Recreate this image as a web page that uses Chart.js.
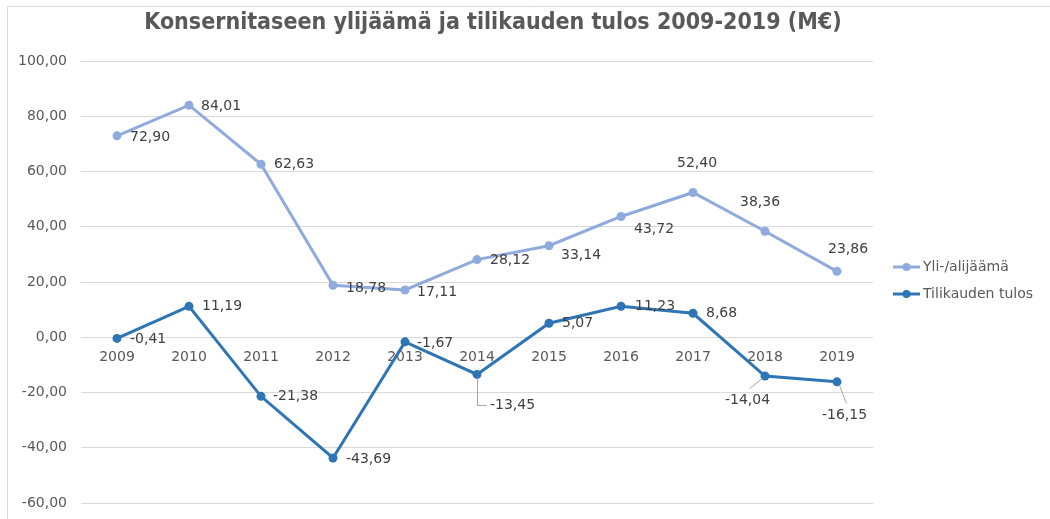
<!DOCTYPE html>
<html>
<head>
<meta charset="utf-8">
<script src="https://cdn.jsdelivr.net/npm/chart.js@4.4.1/dist/chart.umd.min.js"></script>
<style>
    html, body { margin: 0; padding: 0; background: #fff; }
    #wrap { width: 1050px; height: 519px; position: relative; }
</style>
</head>
<body>
<div id="wrap"><canvas id="chart"></canvas></div>
<script>
// data
const years = ['2009', '2010', '2011', '2012', '2013', '2014', '2015', '2016', '2017', '2018', '2019'];
const surplus = [72.90, 84.01, 62.63, 18.78, 17.11, 28.12, 33.14, 43.72, 52.40, 38.36, 23.86];
const result = [-0.41, 11.19, -21.38, -43.69, -1.67, -13.45, 5.07, 11.23, 8.68, -14.04, -16.15];
const yTicks = [-60, -40, -20, 0, 20, 40, 60, 80, 100];

const titleText = 'Konsernitaseen ylijäämä ja tilikauden tulos 2009-2019 (M€)';
const lightBlue = '#8FAADC';
const darkBlue = '#2E75B6';
const textGrey = '#595959';

// label placement relative to the point (left edge of text, middle)
const surplusLabelOffsets = [[13, 1], [12, 1], [13, 0], [13, 3], [12, 2], [13, 1], [12, 10], [13, 13], [-16, -29], [-25, -29], [-9, -22]];
const resultLabelOffsets = [[13, 1], [13, 0], [12, 0], [13, 1], [12, 1], [13, 31], [13, 0], [14, 0], [13, 0], [-40, 24], [-15, 33]];
const resultLeaders = {
    5: [[0, 4], [0, 31], [9, 31]],
    9: [[-3, 2], [-16, 12]],
    10: [[2, 3], [9, 21]]
};

const fmt = v => v.toFixed(2).replace('.', ',');

// frame, title, data labels and legend
const decorPlugin = {
    id: 'decor',
    beforeDraw(chart) {
        const ctx = chart.ctx;
        ctx.save();
        ctx.strokeStyle = '#D9D9D9';
        ctx.lineWidth = 1;
        ctx.beginPath();
        ctx.moveTo(7.5, 519);
        ctx.lineTo(7.5, 6.5);
        ctx.lineTo(1050, 6.5);
        ctx.stroke();
        ctx.restore();
    },
    afterDatasetsDraw(chart) {
        const ctx = chart.ctx;
        ctx.save();

        // title
        ctx.font = 'bold 23px "DejaVu Sans Condensed", "DejaVu Sans", sans-serif';
        ctx.fillStyle = textGrey;
        ctx.textAlign = 'center';
        ctx.textBaseline = 'middle';
        ctx.fillText(titleText, 493, 23);

        // data labels
        const offsets = [surplusLabelOffsets, resultLabelOffsets];
        ctx.font = '14px "DejaVu Sans", sans-serif';
        ctx.textAlign = 'left';
        chart.data.datasets.forEach((ds, di) => {
            const meta = chart.getDatasetMeta(di);
            meta.data.forEach((pt, i) => {
                const [dx, dy] = offsets[di][i];
                if (di === 1 && resultLeaders[i]) {
                    ctx.strokeStyle = '#A6A6A6';
                    ctx.lineWidth = 1;
                    ctx.beginPath();
                    resultLeaders[i].forEach(([lx, ly], k) => {
                        const x = Math.round(pt.x + lx) + 0.5;
                        const y = Math.round(pt.y + ly) + 0.5;
                        if (k === 0) ctx.moveTo(x, y); else ctx.lineTo(x, y);
                    });
                    ctx.stroke();
                }
                ctx.fillStyle = '#404040';
                ctx.fillText(fmt(ds.data[i]), pt.x + dx, pt.y + dy);
            });
        });

        // legend
        const legendY = [267, 294];
        chart.data.datasets.forEach((ds, di) => {
            const y = legendY[di];
            ctx.strokeStyle = ds.borderColor;
            ctx.lineWidth = 3;
            ctx.beginPath();
            ctx.moveTo(893, y);
            ctx.lineTo(920, y);
            ctx.stroke();
            ctx.fillStyle = ds.borderColor;
            ctx.beginPath();
            ctx.arc(906.5, y, 4, 0, Math.PI * 2);
            ctx.fill();
            ctx.fillStyle = textGrey;
            ctx.font = '14px "DejaVu Sans", sans-serif';
            ctx.fillText(ds.label, 923, y);
        });
        ctx.restore();
    }
};

new Chart(document.getElementById('chart'), {
    type: 'line',
    data: {
        labels: years,
        datasets: [
            {
                label: 'Yli-/alijäämä',
                data: surplus,
                borderColor: lightBlue,
                backgroundColor: lightBlue,
                borderWidth: 3,
                pointRadius: 4.5,
                pointBorderWidth: 0,
                tension: 0
            },
            {
                label: 'Tilikauden tulos',
                data: result,
                borderColor: darkBlue,
                backgroundColor: darkBlue,
                borderWidth: 3,
                pointRadius: 4.5,
                pointBorderWidth: 0,
                tension: 0
            }
        ]
    },
    options: {
        responsive: true,
        maintainAspectRatio: false,
        animation: false,
        layout: { padding: { top: 61, right: 177, bottom: 16, left: 0 } },
        plugins: {
            legend: { display: false },
            title: { display: false },
            tooltip: { enabled: false }
        },
        scales: {
            x: {
                type: 'category',
                offset: true,
                position: { y: 0 },
                afterFit(scale) { scale.height = 0; },
                grid: { display: false },
                border: { display: false },
                ticks: {
                    color: textGrey,
                    font: { family: '"DejaVu Sans", sans-serif', size: 14 },
                    padding: 4,
                    maxRotation: 0
                }
            },
            y: {
                min: yTicks[0],
                max: yTicks[yTicks.length - 1],
                afterFit(scale) {
                    scale.width = 81;
                    // don't let the tick padding push the plot area in
                    scale.paddingTop = 0;
                    scale.paddingBottom = 0;
                },
                afterBuildTicks(scale) { scale.ticks = yTicks.map(v => ({ value: v })); },
                grid: { color: '#D9D9D9', drawTicks: false },
                border: { display: false },
                ticks: {
                    color: textGrey,
                    font: { family: '"DejaVu Sans", sans-serif', size: 14 },
                    padding: 14,
                    callback: v => fmt(v)
                }
            }
        }
    },
    plugins: [decorPlugin]
});
</script>
</body>
</html>
